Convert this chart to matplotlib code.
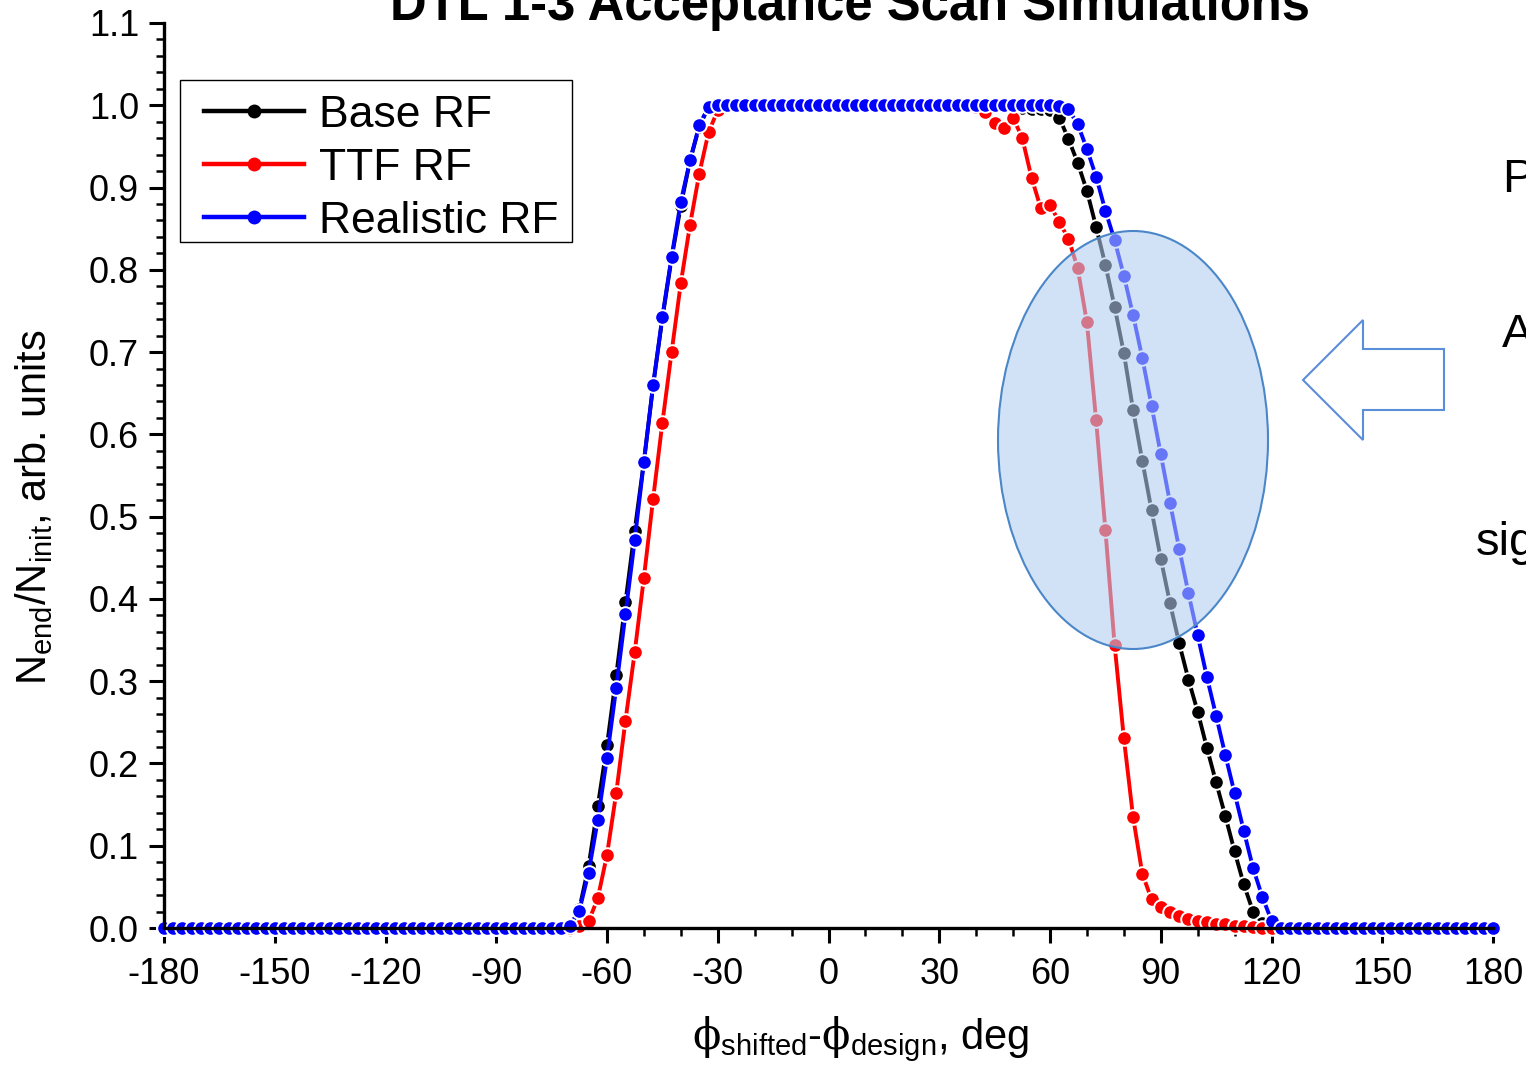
import matplotlib
matplotlib.use("Agg")
import matplotlib.pyplot as plt
from matplotlib.patches import Ellipse, Polygon, Rectangle
from matplotlib.ticker import MultipleLocator

plt.rcParams['font.family'] = ['Liberation Sans', 'DejaVu Sans']
plt.rcParams['mathtext.fontset'] = 'custom'
plt.rcParams['mathtext.rm'] = 'Liberation Sans'
plt.rcParams['mathtext.it'] = 'Liberation Sans:italic'
plt.rcParams['mathtext.sf'] = 'DejaVu Serif'

# ---------------- data ----------------
phase = [-180, -177.5, -175, -172.5, -170, -167.5, -165, -162.5, -160, -157.5,
         -155, -152.5, -150, -147.5, -145, -142.5, -140, -137.5, -135, -132.5,
         -130, -127.5, -125, -122.5, -120, -117.5, -115, -112.5, -110, -107.5,
         -105, -102.5, -100, -97.5, -95, -92.5, -90, -87.5, -85, -82.5,
         -80, -77.5, -75, -72.5, -70, -67.5, -65, -62.5, -60, -57.5,
         -55, -52.5, -50, -47.5, -45, -42.5, -40, -37.5, -35, -32.5,
         -30, -27.5, -25, -22.5, -20, -17.5, -15, -12.5, -10, -7.5,
         -5, -2.5, 0, 2.5, 5, 7.5, 10, 12.5, 15, 17.5,
         20, 22.5, 25, 27.5, 30, 32.5, 35, 37.5, 40, 42.5,
         45, 47.5, 50, 52.5, 55, 57.5, 60, 62.5, 65, 67.5,
         70, 72.5, 75, 77.5, 80, 82.5, 85, 87.5, 90, 92.5,
         95, 97.5, 100, 102.5, 105, 107.5, 110, 112.5, 115, 117.5,
         120, 122.5, 125, 127.5, 130, 132.5, 135, 137.5, 140, 142.5,
         145, 147.5, 150, 152.5, 155, 157.5, 160, 162.5, 165, 167.5,
         170, 172.5, 175, 177.5, 180]

base_rf = [0, 0, 0, 0, 0, 0, 0, 0, 0, 0,
           0, 0, 0, 0, 0, 0, 0, 0, 0, 0,
           0, 0, 0, 0, 0, 0, 0, 0, 0, 0,
           0, 0, 0, 0, 0, 0, 0, 0, 0, 0,
           0, 0, 0, 0, 0.002, 0.023, 0.075, 0.148, 0.222, 0.307,
           0.396, 0.483, 0.567, 0.660, 0.741, 0.814, 0.878, 0.933, 0.974, 0.998,
           1, 1, 1, 1, 1, 1, 1, 1, 1, 1,
           1, 1, 1, 1, 1, 1, 1, 1, 1, 1,
           1, 1, 1, 1, 1, 1, 1, 1, 1, 1,
           1, 0.999, 0.998, 0.997, 0.995, 0.995, 0.994, 0.985, 0.959, 0.930,
           0.896, 0.852, 0.806, 0.755, 0.699, 0.630, 0.568, 0.508, 0.449, 0.395,
           0.346, 0.302, 0.263, 0.219, 0.177, 0.136, 0.093, 0.053, 0.020, 0.006,
           0.001, 0, 0, 0, 0, 0, 0, 0, 0, 0,
           0, 0, 0, 0, 0, 0, 0, 0, 0, 0,
           0, 0, 0, 0, 0]

ttf_rf = [0, 0, 0, 0, 0, 0, 0, 0, 0, 0,
          0, 0, 0, 0, 0, 0, 0, 0, 0, 0,
          0, 0, 0, 0, 0, 0, 0, 0, 0, 0,
          0, 0, 0, 0, 0, 0, 0, 0, 0, 0,
          0, 0, 0, 0, 0, 0.002, 0.008, 0.036, 0.089, 0.164,
          0.252, 0.335, 0.426, 0.522, 0.614, 0.700, 0.784, 0.855, 0.917, 0.967,
          0.994, 1, 1, 1, 1, 1, 1, 1, 1, 1,
          1, 1, 1, 1, 1, 1, 1, 1, 1, 1,
          1, 1, 1, 1, 1, 1, 1, 1, 0.998, 0.992,
          0.978, 0.972, 0.985, 0.960, 0.912, 0.875, 0.879, 0.858, 0.838, 0.802,
          0.736, 0.617, 0.484, 0.344, 0.231, 0.135, 0.066, 0.035, 0.025, 0.019,
          0.014, 0.011, 0.0085, 0.007, 0.005, 0.005, 0.003, 0.002, 0.001, 0,
          0, 0, 0, 0, 0, 0, 0, 0, 0, 0,
          0, 0, 0, 0, 0, 0, 0, 0, 0, 0,
          0, 0, 0, 0, 0]

realistic_rf = [0, 0, 0, 0, 0, 0, 0, 0, 0, 0,
                0, 0, 0, 0, 0, 0, 0, 0, 0, 0,
                0, 0, 0, 0, 0, 0, 0, 0, 0, 0,
                0, 0, 0, 0, 0, 0, 0, 0, 0, 0,
                0, 0, 0, 0, 0.003, 0.021, 0.067, 0.131, 0.207, 0.292,
                0.382, 0.471, 0.567, 0.660, 0.743, 0.816, 0.883, 0.933, 0.976, 0.998,
                1, 1, 1, 1, 1, 1, 1, 1, 1, 1,
                1, 1, 1, 1, 1, 1, 1, 1, 1, 1,
                1, 1, 1, 1, 1, 1, 1, 1, 1, 1,
                1, 1, 1, 1, 1, 1, 1, 0.999, 0.995, 0.977,
                0.947, 0.913, 0.872, 0.836, 0.793, 0.745, 0.693, 0.635, 0.576, 0.517,
                0.461, 0.407, 0.356, 0.305, 0.258, 0.210, 0.164, 0.118, 0.073, 0.038,
                0.009, 0, 0, 0, 0, 0, 0, 0, 0, 0,
                0, 0, 0, 0, 0, 0, 0, 0, 0, 0,
                0, 0, 0, 0, 0]

series_labels = ['Base RF', 'TTF RF', 'Realistic RF']
series_colors = ['black', '#ff0000', '#0000ff']
x_ticks = [-180, -150, -120, -90, -60, -30, 0, 30, 60, 90, 120, 150, 180]
y_ticks = [0.0, 0.1, 0.2, 0.3, 0.4, 0.5, 0.6, 0.7, 0.8, 0.9, 1.0, 1.1]

# ---------------- figure ----------------
W, H = 1526, 1066
fig = plt.figure(figsize=(W / 100, H / 100), dpi=100)
ax = fig.add_axes([164 / W, 1 - 928 / H, (1493 - 164) / W, (928 - 23) / H])

for ys, lab, col in zip([base_rf, ttf_rf, realistic_rf], series_labels, series_colors):
    ax.plot(phase, ys, '-o', color=col, lw=2.8, ms=10.5, mfc=col,
            mec='white', mew=1.4, label=lab, clip_on=False)

ax.set_xlim(-180, 180)
ax.set_ylim(0, 1.1)
ax.set_xticks(x_ticks)
ax.set_xticklabels([str(t) for t in x_ticks])
ax.set_yticks(y_ticks)
ax.set_yticklabels([f'{t:.1f}' for t in y_ticks])
ax.xaxis.set_minor_locator(MultipleLocator(10))
ax.yaxis.set_minor_locator(MultipleLocator(0.02))
ax.tick_params(axis='both', which='major', direction='out', length=11, width=2.2,
               labelsize=26, pad=7)
ax.tick_params(axis='both', which='minor', direction='out', length=6, width=1.8)
ax.tick_params(axis='x', which='major', pad=10)
for s in ['top', 'right']:
    ax.spines[s].set_visible(False)
for s in ['left', 'bottom']:
    ax.spines[s].set_linewidth(2.4)
ax.patch.set_alpha(0)

ax.set_ylabel(r'$\mathrm{N_{end}/N_{init}}$, arb. units', fontsize=30)
ax.yaxis.set_label_coords(-0.082, 0.465)
ax.set_xlabel(r'$\mathsf{\phi}_{\mathrm{shifted}}$-$\mathsf{\phi}_{\mathrm{design}}$, deg',
              fontsize=30)
ax.xaxis.set_label_coords(0.524, -0.095)
ax.xaxis.label.set_va('top')

# legend: contents placed inside a separately drawn frame
leg = ax.legend(loc='upper left', bbox_to_anchor=(204 / W, 1 - 95 / H),
                bbox_transform=fig.transFigure, borderaxespad=0, fontsize=32,
                handlelength=2.25, handletextpad=0.34, labelspacing=0.27,
                borderpad=0, frameon=False, numpoints=1)
for h in leg.legend_handles:
    h.set_markeredgewidth(0)
    h.set_markersize(10)
    h.set_linewidth(3.2)
frame = Rectangle((180 / W, 1 - 242 / H), (572 - 180) / W, (242 - 80) / H,
                  transform=fig.transFigure, fill=False, edgecolor='black', lw=1.0,
                  zorder=6)
fig.add_artist(frame)

# title (clipped at top, as on the slide)
fig.text(850 / W, 1 - 20 / H, 'DTL 1-3 Acceptance Scan Simulations',
         ha='center', va='baseline', fontsize=36.5, fontweight='bold')

# highlight ellipse
ell = Ellipse((1133 / W, 1 - 440 / H), 270 / W, 418 / H,
              transform=fig.transFigure, facecolor=(178 / 255, 205 / 255, 241 / 255, 0.58),
              edgecolor='#4a86c8', lw=1.5, zorder=10)
fig.add_artist(ell)

# arrow outline
arrow_px = [(1303, 380), (1363, 320), (1363, 349), (1444, 349),
            (1444, 410), (1363, 410), (1363, 440)]
arrow = Polygon([(x / W, 1 - y / H) for x, y in arrow_px], closed=True,
                transform=fig.transFigure, fill=False, edgecolor='#5b8ed8', lw=1.5,
                zorder=10)
fig.add_artist(arrow)

# partially visible slide text on the right
fig.text(1502 / W, 1 - 192 / H, 'P', fontsize=34, ha='left', va='baseline')
fig.text(1502 / W, 1 - 347 / H, 'A', fontsize=34, ha='left', va='baseline')
fig.text(1476 / W, 1 - 555 / H, 'sig', fontsize=34, ha='left', va='baseline')

fig.savefig('out.png', dpi=100)
